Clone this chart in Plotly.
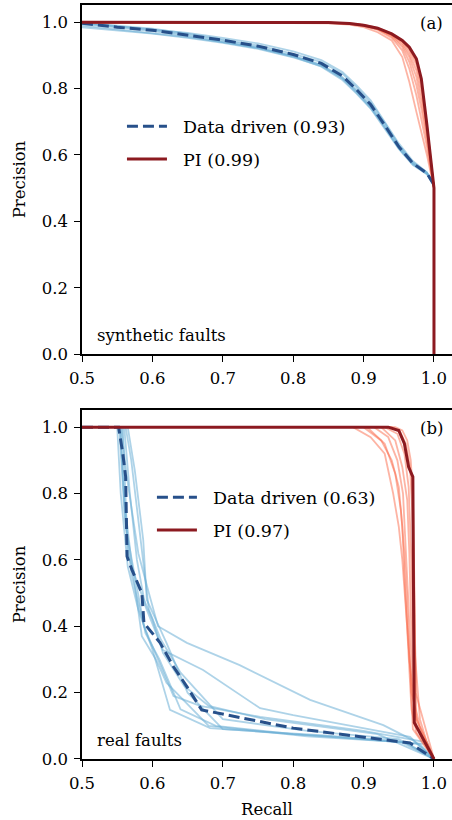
import plotly.graph_objects as go
from plotly.subplots import make_subplots

# ---- (a) synthetic faults -------------------------------------------------
recall_dd_a = [0.5, 0.55, 0.6, 0.65, 0.7, 0.75, 0.8, 0.84, 0.87, 0.89, 0.91, 0.93, 0.95, 0.97, 0.99, 1.0]
prec_dd_a_mean = [0.997, 0.985, 0.976, 0.962, 0.946, 0.928, 0.903, 0.876, 0.838, 0.797, 0.752, 0.690, 0.625, 0.575, 0.545, 0.51]
prec_dd_a_runs = [
    [0.998, 0.988, 0.980, 0.968, 0.953, 0.936, 0.912, 0.886, 0.850, 0.810, 0.765, 0.702, 0.635, 0.582, 0.548, 0.51],
    [0.995, 0.983, 0.973, 0.958, 0.941, 0.922, 0.896, 0.866, 0.826, 0.785, 0.740, 0.680, 0.618, 0.570, 0.542, 0.51],
    [0.990, 0.978, 0.968, 0.955, 0.940, 0.923, 0.899, 0.872, 0.834, 0.792, 0.745, 0.683, 0.622, 0.574, 0.544, 0.51],
    [0.999, 0.990, 0.981, 0.966, 0.949, 0.930, 0.905, 0.880, 0.845, 0.804, 0.758, 0.697, 0.630, 0.578, 0.547, 0.51],
    [0.985, 0.975, 0.966, 0.953, 0.938, 0.920, 0.894, 0.868, 0.830, 0.788, 0.742, 0.685, 0.620, 0.572, 0.543, 0.51],
    [0.997, 0.987, 0.977, 0.962, 0.945, 0.925, 0.898, 0.870, 0.832, 0.796, 0.750, 0.692, 0.628, 0.576, 0.546, 0.51],
]

recall_pi_a = [0.5, 0.8, 0.85, 0.88, 0.9, 0.92, 0.94, 0.955, 0.965, 0.975, 0.982, 0.99, 0.999, 1.0]
recall_pi_a_mean = [0.5, 0.8, 0.85, 0.88, 0.9, 0.92, 0.94, 0.955, 0.965, 0.975, 0.982, 0.99, 0.999, 1.0, 1.0]
prec_pi_a_mean = [1.0, 1.0, 0.999, 0.996, 0.991, 0.982, 0.965, 0.945, 0.925, 0.89, 0.83, 0.69, 0.505, 0.5, 0.0]
prec_pi_a_runs = [
    [1.0, 0.999, 0.997, 0.993, 0.985, 0.970, 0.945, 0.895, 0.820, 0.730, 0.670, 0.600, 0.51, 0.5],
    [1.0, 1.0, 0.998, 0.995, 0.989, 0.977, 0.953, 0.915, 0.860, 0.780, 0.710, 0.625, 0.51, 0.5],
    [1.0, 1.0, 0.998, 0.996, 0.990, 0.979, 0.957, 0.925, 0.880, 0.810, 0.740, 0.645, 0.51, 0.5],
    [1.0, 1.0, 0.999, 0.996, 0.990, 0.980, 0.960, 0.932, 0.895, 0.835, 0.765, 0.660, 0.51, 0.5],
    [1.0, 1.0, 0.999, 0.996, 0.991, 0.981, 0.962, 0.938, 0.905, 0.855, 0.790, 0.675, 0.51, 0.5],
    [1.0, 1.0, 0.999, 0.996, 0.991, 0.981, 0.963, 0.942, 0.915, 0.872, 0.810, 0.685, 0.51, 0.5],
    [1.0, 1.0, 0.999, 0.997, 0.992, 0.983, 0.966, 0.946, 0.920, 0.882, 0.822, 0.690, 0.51, 0.5],
]

# ---- (b) real faults ------------------------------------------------------
recall_dd_b_mean = [0.5, 0.552, 0.558, 0.562, 0.564, 0.571, 0.585, 0.588, 0.611, 0.630, 0.649, 0.670, 0.800, 0.895, 0.966, 1.0]
prec_dd_b_mean = [1.0, 1.0, 0.92, 0.85, 0.61, 0.57, 0.50, 0.41, 0.35, 0.278, 0.218, 0.148, 0.093, 0.067, 0.048, 0.0]
dd_b_runs = [
    ([0.5, 0.556, 0.563, 0.580, 0.595, 0.608, 0.649, 0.724, 0.824, 0.928, 0.970, 1.0],
     [1.0, 1.0, 0.86, 0.62, 0.50, 0.40, 0.35, 0.283, 0.178, 0.102, 0.057, 0.0]),
    ([0.5, 0.560, 0.568, 0.578, 0.590, 0.615, 0.672, 0.753, 0.800, 0.966, 1.0],
     [1.0, 1.0, 0.80, 0.60, 0.46, 0.328, 0.268, 0.153, 0.132, 0.067, 0.0]),
    ([0.5, 0.550, 0.555, 0.565, 0.580, 0.600, 0.625, 0.682, 0.800, 0.990, 1.0],
     [1.0, 1.0, 0.80, 0.58, 0.45, 0.33, 0.148, 0.093, 0.075, 0.045, 0.0]),
    ([0.5, 0.553, 0.560, 0.570, 0.588, 0.630, 0.668, 0.753, 0.900, 0.990, 1.0],
     [1.0, 1.0, 0.75, 0.56, 0.40, 0.19, 0.16, 0.127, 0.085, 0.05, 0.0]),
    ([0.5, 0.555, 0.562, 0.575, 0.590, 0.610, 0.640, 0.690, 0.800, 0.950, 1.0],
     [1.0, 1.0, 0.70, 0.55, 0.38, 0.30, 0.15, 0.10, 0.075, 0.055, 0.0]),
    ([0.5, 0.565, 0.575, 0.587, 0.592, 0.620, 0.650, 0.700, 0.850, 0.980, 1.0],
     [1.0, 1.0, 0.87, 0.66, 0.48, 0.35, 0.20, 0.09, 0.07, 0.045, 0.0]),
    ([0.5, 0.558, 0.565, 0.580, 0.600, 0.615, 0.645, 0.680, 0.760, 0.920, 1.0],
     [1.0, 1.0, 0.62, 0.52, 0.42, 0.32, 0.22, 0.16, 0.12, 0.075, 0.0]),
    ([0.5, 0.554, 0.560, 0.570, 0.585, 0.605, 0.620, 0.680, 0.820, 0.960, 1.0],
     [1.0, 1.0, 0.78, 0.60, 0.37, 0.30, 0.23, 0.10, 0.068, 0.05, 0.0]),
    ([0.5, 0.562, 0.570, 0.582, 0.595, 0.612, 0.640, 0.700, 0.820, 0.950, 1.0],
     [1.0, 1.0, 0.90, 0.68, 0.45, 0.36, 0.26, 0.12, 0.085, 0.06, 0.0]),
]

recall_pi_b_mean = [0.5, 0.935, 0.950, 0.958, 0.964, 0.970, 0.971, 0.972, 1.0]
prec_pi_b_mean = [1.0, 1.0, 0.99, 0.95, 0.88, 0.85, 0.48, 0.11, 0.0]
pi_b_runs = [
    ([0.5, 0.885, 0.910, 0.930, 0.942, 0.950, 0.955, 0.959, 0.962, 0.966, 0.970, 1.0],
     [1.0, 1.0, 0.97, 0.92, 0.80, 0.70, 0.60, 0.48, 0.42, 0.28, 0.09, 0.0]),
    ([0.5, 0.900, 0.925, 0.940, 0.950, 0.955, 0.958, 0.962, 0.965, 0.968, 0.975, 1.0],
     [1.0, 1.0, 0.96, 0.90, 0.82, 0.70, 0.55, 0.40, 0.25, 0.15, 0.08, 0.0]),
    ([0.5, 0.915, 0.935, 0.948, 0.956, 0.960, 0.963, 0.966, 0.968, 0.980, 1.0],
     [1.0, 1.0, 0.97, 0.90, 0.80, 0.65, 0.50, 0.35, 0.20, 0.10, 0.0]),
    ([0.5, 0.925, 0.945, 0.955, 0.962, 0.965, 0.967, 0.969, 0.971, 0.985, 1.0],
     [1.0, 1.0, 0.96, 0.88, 0.78, 0.62, 0.45, 0.30, 0.15, 0.06, 0.0]),
    ([0.5, 0.930, 0.948, 0.958, 0.964, 0.968, 0.970, 0.975, 0.980, 0.990, 1.0],
     [1.0, 1.0, 0.98, 0.92, 0.82, 0.60, 0.40, 0.25, 0.12, 0.05, 0.0]),
    ([0.5, 0.940, 0.952, 0.960, 0.966, 0.969, 0.972, 0.975, 1.0],
     [1.0, 1.0, 0.985, 0.95, 0.88, 0.75, 0.50, 0.12, 0.0]),
    ([0.5, 0.905, 0.930, 0.945, 0.953, 0.958, 0.961, 0.965, 0.975, 1.0],
     [1.0, 1.0, 0.95, 0.86, 0.75, 0.62, 0.50, 0.30, 0.10, 0.0]),
    ([0.5, 0.945, 0.955, 0.962, 0.967, 0.970, 0.972, 0.974, 1.0],
     [1.0, 1.0, 0.99, 0.96, 0.90, 0.80, 0.55, 0.20, 0.0]),
]

labels_a = ["Data driven (0.93)", "PI (0.99)"]
labels_b = ["Data driven (0.63)", "PI (0.97)"]

LIGHT_BLUE = "rgba(107,174,214,0.55)"
LIGHT_RED = "rgba(251,106,74,0.5)"
DARK_BLUE = "#27508a"
DARK_RED = "#8c1a20"
FONT = "DejaVu Serif"
FS = 16.5

fig = make_subplots(rows=2, cols=1)


def add_panel(row, dd_runs, dd_mean, pi_runs, pi_mean, labels, legend):
    for xs, ys in dd_runs:
        fig.add_trace(go.Scatter(x=xs, y=ys, mode="lines", showlegend=False,
                                 line=dict(color=LIGHT_BLUE, width=1.8)), row=row, col=1)
    for xs, ys in pi_runs:
        fig.add_trace(go.Scatter(x=xs, y=ys, mode="lines", showlegend=False,
                                 line=dict(color=LIGHT_RED, width=1.8)), row=row, col=1)
    fig.add_trace(go.Scatter(x=dd_mean[0], y=dd_mean[1], mode="lines", name="&nbsp;&nbsp;" + labels[0],
                             legend=legend, legendgroup="dd" + legend,
                             line=dict(color=DARK_BLUE, width=3, dash="11px,5px")), row=row, col=1)
    fig.add_trace(go.Scatter(x=pi_mean[0], y=pi_mean[1], mode="lines", name="&nbsp;&nbsp;" + labels[1],
                             legend=legend, legendgroup="pi" + legend,
                             line=dict(color=DARK_RED, width=3)), row=row, col=1)


add_panel(1, [(recall_dd_a, p) for p in prec_dd_a_runs], (recall_dd_a, prec_dd_a_mean),
          [(recall_pi_a, p) for p in prec_pi_a_runs], (recall_pi_a_mean, prec_pi_a_mean),
          labels_a, "legend")
add_panel(2, dd_b_runs, (recall_dd_b_mean, prec_dd_b_mean),
          pi_b_runs, (recall_pi_b_mean, prec_pi_b_mean),
          labels_b, "legend2")

axis_common = dict(
    showgrid=False, zeroline=False, showline=True, linecolor="black", linewidth=1.6,
    ticks="outside", ticklen=6, tickwidth=1.4, tickcolor="black", automargin=False,
    tickfont=dict(family=FONT, size=FS, color="black"),
)
title_font = dict(family=FONT, size=FS, color="black")
fig.update_xaxes(range=[0.5, 1.0256], tickvals=[0.5, 0.6, 0.7, 0.8, 0.9, 1.0],
                 tickformat=".1f", mirror=True, ticklabelstandoff=2, **axis_common)
fig.update_yaxes(range=[0, 1.052], tickvals=[0, 0.2, 0.4, 0.6, 0.8, 1.0],
                 tickformat=".1f", ticklabelstandoff=3,
                 title=dict(text="Precision", font=title_font, standoff=12),
                 **axis_common)
fig.update_layout(
    yaxis=dict(domain=[0.537, 1.0]),
    yaxis2=dict(domain=[0.0, 0.463]),
    xaxis=dict(domain=[0, 1]),
    xaxis2=dict(domain=[0, 1], title=dict(text="Recall", font=title_font, standoff=12)),
)

legend_common = dict(bgcolor="rgba(0,0,0,0)", font=dict(family=FONT, size=17.5, color="black"),
                     xanchor="left", yanchor="top", traceorder="grouped",
                     tracegroupgap=7, itemwidth=40)
fig.update_layout(
    legend=dict(x=0.108, y=0.863, **legend_common),
    legend2=dict(x=0.189, y=0.371, **legend_common),
)

ann_font = dict(family=FONT, size=FS, color="black")
fig.add_annotation(text="(a)", x=0.981, y=1.0, xref="x domain", yref="y domain",
                   xanchor="right", yanchor="top", showarrow=False, font=ann_font, yshift=-7)
fig.add_annotation(text="(b)", x=0.981, y=1.0, xref="x2 domain", yref="y2 domain",
                   xanchor="right", yanchor="top", showarrow=False, font=ann_font, yshift=-7)
fig.add_annotation(text="synthetic faults", x=0.035, y=0.02, xref="x domain", yref="y domain",
                   xanchor="left", yanchor="bottom", showarrow=False, font=ann_font)
fig.add_annotation(text="real faults", x=0.035, y=0.02, xref="x2 domain", yref="y2 domain",
                   xanchor="left", yanchor="bottom", showarrow=False, font=ann_font)

fig.update_layout(
    width=452, height=820,
    margin=dict(l=82, r=0, t=5, b=61),
    plot_bgcolor="white", paper_bgcolor="white",
)

fig.write_html("out.html", config={"displayModeBar": False},
               post_script="document.body.style.margin='0';")
